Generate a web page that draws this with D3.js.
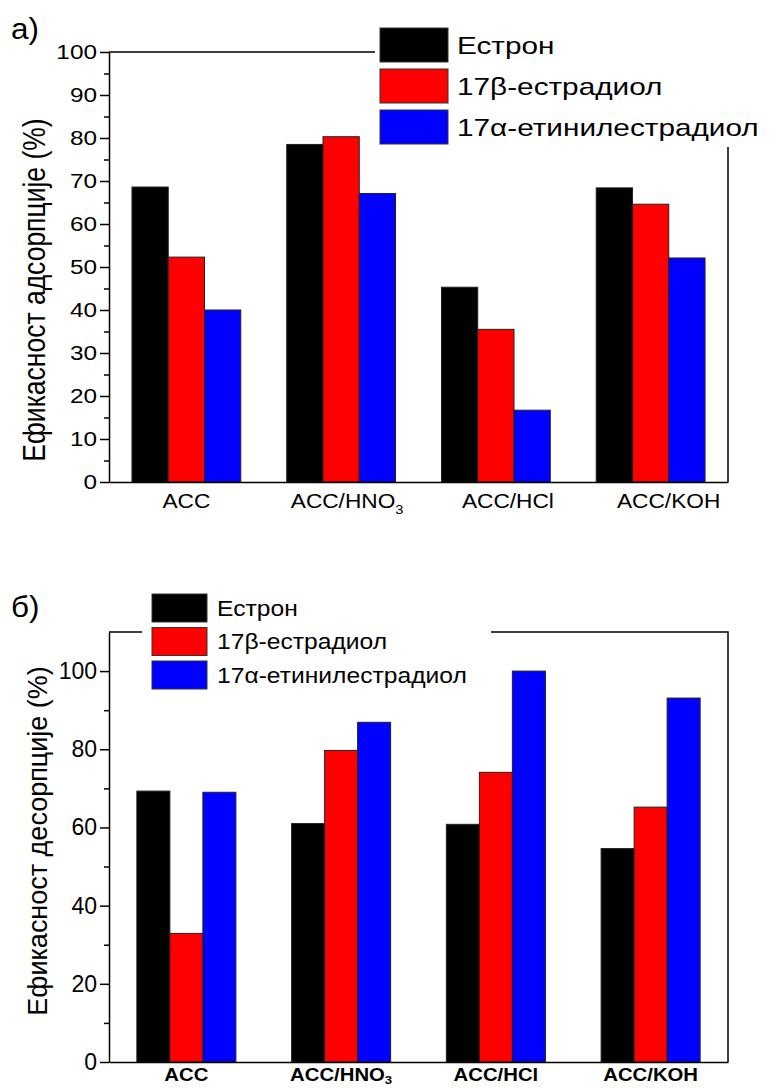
<!DOCTYPE html>
<html>
<head>
<meta charset="utf-8">
<script src="https://cdn.jsdelivr.net/npm/d3@7"></script>
<style>
  html, body { margin: 0; padding: 0; background: #fff; }
  svg text { font-family: "Liberation Sans", Arial, sans-serif; fill: #000; }
</style>
</head>
<body>
<div id="chart"></div>
<script>
// categories and series
var categories = ["ACC", "ACC/HNO3", "ACC/HCl", "ACC/KOH"];
var seriesNames = ["Естрон", "17β-естрадиол", "17α-етинилестрадиол"];
var seriesColors = ["#000000", "#ff0000", "#0000ff"];

// a) adsorption efficiency (%)
var adsEstron    = [68.6, 78.5, 45.3, 68.4];
var adsEstradiol = [52.3, 80.3, 35.5, 64.6];
var adsEtinil    = [40.0, 67.1, 16.7, 52.1];
var adsTicks = [0, 10, 20, 30, 40, 50, 60, 70, 80, 90, 100];

// b) desorption efficiency (%)
var desEstron    = [69.3, 61.0, 60.8, 54.6];
var desEstradiol = [32.9, 79.7, 74.1, 65.2];
var desEtinil    = [69.0, 86.9, 100.0, 93.1];
var desTicks = [0, 20, 40, 60, 80, 100];

var W = 777, H = 1088;
var svg = d3.select("#chart").append("svg")
    .attr("width", W)
    .attr("height", H);

// text drawn with a horizontal stretch, like the original figure
function stretchText(g, str, x, y, size, sx, anchor, weight) {
  return g.append("text")
    .attr("transform", "translate(" + x + "," + y + ") scale(" + sx + ",1)")
    .attr("text-anchor", anchor || "start")
    .attr("font-size", size + "px")
    .attr("font-weight", weight || "normal")
    .text(str);
}

function drawPanel(cfg) {
  var g = svg.append("g");

  var x = d3.scaleBand()
      .domain(categories)
      .range([109, 728])
      .paddingInner(cfg.pad)
      .paddingOuter(cfg.pad / 2);

  var xs = d3.scaleBand()
      .domain(seriesNames)
      .range([0, x.bandwidth()]);

  var y = d3.scaleLinear()
      .domain(cfg.domain)
      .range([cfg.bottom, cfg.top]);

  // bars
  var rows = [];
  cfg.values.forEach(function (vals, si) {
    vals.forEach(function (v, ci) {
      rows.push({cat: categories[ci], s: seriesNames[si], color: seriesColors[si], v: v});
    });
  });

  g.selectAll("rect.bar")
    .data(rows)
    .enter().append("rect")
      .attr("class", "bar")
      .attr("x", function (d) { return x(d.cat) + xs(d.s); })
      .attr("y", function (d) { return y(d.v); })
      .attr("width", xs.bandwidth())
      .attr("height", function (d) { return y(0) - y(d.v); })
      .attr("fill", function (d) { return d.color; })
      .attr("stroke", "#222")
      .attr("stroke-width", 1);

  // frame (top + right)
  g.append("path")
    .attr("d", "M109," + y(cfg.domain[1]) + "H728V" + y(0))
    .attr("fill", "none")
    .attr("stroke", "#000")
    .attr("stroke-width", 1.5);

  // minor ticks
  g.append("g")
    .attr("transform", "translate(109,0)")
    .call(d3.axisLeft(y).tickValues(cfg.minor).tickSize(5).tickSizeOuter(0).tickFormat(""))
    .call(function (a) { a.select(".domain").remove(); })
    .selectAll("line").attr("stroke-width", 1.5);

  // major ticks + labels
  var ya = g.append("g")
    .attr("transform", "translate(109,0)")
    .call(d3.axisLeft(y).tickValues(cfg.ticks).tickSize(9).tickSizeOuter(0).tickPadding(3));
  ya.selectAll("path, line").attr("stroke-width", 1.5);
  ya.selectAll("text")
    .attr("font-size", cfg.tickSize + "px")
    .attr("font-family", "Liberation Sans, Arial, sans-serif")
    .attr("x", -12 / cfg.tickSx)
    .attr("transform", "scale(" + cfg.tickSx + ",1)");

  // x axis line
  g.append("g")
    .attr("transform", "translate(0," + y(0) + ")")
    .call(d3.axisBottom(x).tickSize(0).tickSizeOuter(0).tickFormat(""))
    .select(".domain").attr("stroke-width", 1.5);

  // category labels (chemical subscript for the trailing digit)
  categories.forEach(function (c, i) {
    var m = c.match(/^(.*?)(\d)$/);
    var cx = x(c) + x.bandwidth() / 2 + i * cfg.labelShift;
    var t = g.append("text")
      .attr("transform", "translate(" + cx + "," + cfg.labelY + ") scale(" + cfg.labelSx + ",1)")
      .attr("text-anchor", "middle")
      .attr("font-size", cfg.labelSize + "px")
      .attr("font-weight", cfg.labelWeight);
    if (m) {
      t.append("tspan").text(m[1]);
      t.append("tspan").attr("font-size", (cfg.labelSize * 0.65) + "px").attr("dy", cfg.subDy).text(m[2]);
    } else {
      t.text(c);
    }
  });

  // y axis title
  g.append("text")
    .attr("transform", "translate(" + cfg.titleX + "," + cfg.titleY + ") scale(" + cfg.titleSx + ",1) rotate(-90)")
    .attr("text-anchor", "middle")
    .attr("font-size", cfg.titleSize + "px")
    .text(cfg.title);

  // legend with white background
  var L = cfg.legend;
  g.append("rect")
    .attr("x", L.bgX).attr("y", L.bgY)
    .attr("width", L.bgW).attr("height", L.bgH)
    .attr("fill", "#fff");

  var lg = g.selectAll("g.leg")
    .data(seriesNames)
    .enter().append("g")
      .attr("class", "leg")
      .attr("transform", function (d, i) { return "translate(" + L.x + "," + (L.y + i * L.step) + ")"; });

  lg.append("rect")
    .attr("width", L.boxW)
    .attr("height", L.boxH)
    .attr("fill", function (d, i) { return seriesColors[i]; })
    .attr("stroke", "#333")
    .attr("stroke-width", 1);

  lg.each(function (d) {
    stretchText(d3.select(this), d, L.boxW + L.gap, L.boxH / 2 + L.size * 0.36, L.size, L.sx);
  });

  // panel letter
  stretchText(g, cfg.letter, 11, cfg.letterY, 30, 1.05);
}

drawPanel({
  letter: "a)", letterY: 39,
  values: [adsEstron, adsEstradiol, adsEtinil],
  domain: [0, 100], top: 52, bottom: 482,
  ticks: adsTicks, minor: d3.range(5, 100, 10),
  tickSize: 19.5, tickSx: 1.25,
  pad: 0.297,
  labelY: 508, labelSize: 21, labelSx: 1.08, labelWeight: "normal", labelShift: 6, subDy: 6,
  title: "Ефикасност адсорпције (%)", titleX: 45, titleY: 290, titleSize: 26.5, titleSx: 1.2,
  legend: {bgX: 375, bgY: 14, bgW: 402, bgH: 133, x: 380, y: 28, step: 41,
           boxW: 68, boxH: 34, gap: 9, size: 24, sx: 1.24}
});

drawPanel({
  letter: "б)", letterY: 617,
  values: [desEstron, desEstradiol, desEtinil],
  domain: [0, 110], top: 632, bottom: 1062,
  ticks: desTicks, minor: d3.range(10, 110, 20),
  tickSize: 23, tickSx: 1.0,
  pad: 0.36,
  labelY: 1081, labelSize: 18, labelSx: 1.13, labelWeight: "bold", labelShift: 0, subDy: 3,
  title: "Ефикасност десорпције (%)", titleX: 47, titleY: 841, titleSize: 27, titleSx: 1.03,
  legend: {bgX: 142, bgY: 588, bgW: 349, bgH: 107, x: 152, y: 594, step: 33.5,
           boxW: 55, boxH: 28, gap: 10, size: 22, sx: 1.12}
});
</script>
</body>
</html>
